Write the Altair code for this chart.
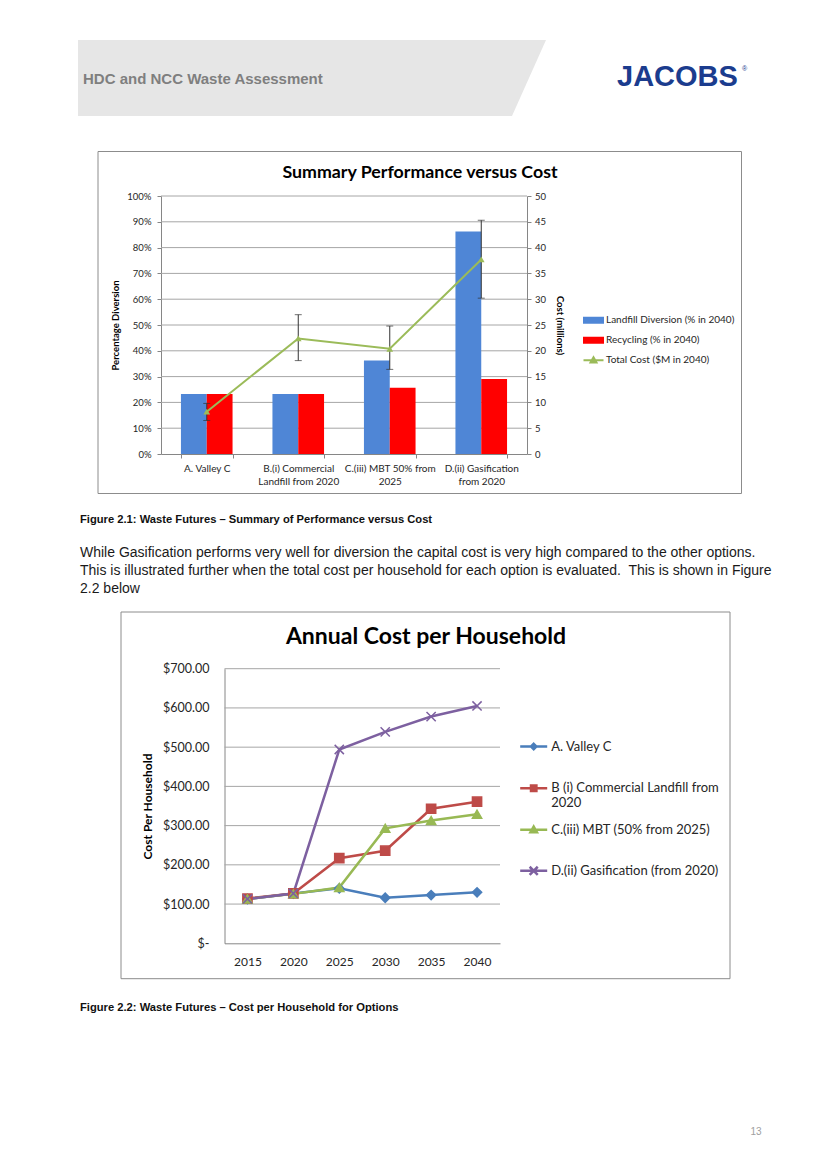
import json
import altair as alt
import pandas as pd

FONT = "Lato"
DOC_FONT = "Liberation Sans"

# ---------------- Figure 2.1 : Summary Performance versus Cost ----------------
options = ["A. Valley C", "B.(i) Commercial Landfill from 2020",
           "C.(iii) MBT 50% from 2025", "D.(ii) Gasification from 2020"]
option_label_lines = [["A. Valley C"], ["B.(i) Commercial", "Landfill from 2020"],
                      ["C.(iii) MBT 50% from", "2025"], ["D.(ii) Gasification", "from 2020"]]
landfill_diversion = [23.3, 23.3, 36.2, 86.2]   # % in 2040
recycling = [23.3, 23.3, 25.7, 29.1]            # % in 2040
total_cost = [8.2, 22.4, 20.4, 37.7]            # $M in 2040
cost_low = [6.5, 18.1, 16.4, 30.2]
cost_high = [9.8, 27.0, 24.8, 45.3]
series_fig1 = ["Landfill Diversion (% in 2040)", "Recycling (% in 2040)", "Total Cost ($M in 2040)"]
pct_ticks = [0, 10, 20, 30, 40, 50, 60, 70, 80, 90, 100]
cost_ticks = [0, 5, 10, 15, 20, 25, 30, 35, 40, 45, 50]

# ---------------- Figure 2.2 : Annual Cost per Household ----------------
years = ["2015", "2020", "2025", "2030", "2035", "2040"]
valley_c = [113, 127, 140, 116, 123, 130]
commercial_landfill = [114, 127, 217, 236, 343, 361]
mbt = [113, 126, 142, 293, 313, 329]
gasification = [113, 127, 494, 539, 578, 605]
series_fig2 = ["A. Valley C", "B (i) Commercial Landfill from 2020",
               "C.(iii) MBT (50% from 2025)", "D.(ii) Gasification (from 2020)"]
series2_label_lines = [["A. Valley C"], ["B (i) Commercial Landfill from", "2020"],
                       ["C.(iii) MBT (50% from 2025)"], ["D.(ii) Gasification (from 2020)"]]
dollar_ticks = [0, 100, 200, 300, 400, 500, 600, 700]

# ---------------- styles ----------------
BLUE1, RED1, GREEN1 = "#4F86D6", "#FF0000", "#9BBB59"
COLORS2 = ["#4A7EBB", "#BE4B48", "#98B954", "#7D60A0"]
AXIS_C = "#868686"
GRID_C = "#A6A6A6"
LABEL_C = "#262626"


def multiline_expr(keys, lines):
    parts = [f"datum.label == {json.dumps(k)} ? {json.dumps(v)}" for k, v in zip(keys, lines) if len(v) > 1]
    if not parts:
        return "datum.label"
    return " : ".join(parts) + " : datum.label"


one = alt.Data(values=[{"k": 1}])


def txt(text, x, y, size, font=DOC_FONT, weight="normal", color="#000000",
        align="left", baseline="alphabetic", **kw):
    return alt.Chart(one).mark_text(text=text, font=font, fontSize=size, fontWeight=weight,
                                    color=color, align=align, baseline=baseline, **kw).encode(
        x=alt.value(x), y=alt.value(y))


layers = []

# ---- page header ----
header_shape = pd.DataFrame({"py": [32, 108], "px": [70, 70], "px2": [538, 504]})
layers.append(alt.Chart(header_shape).mark_area(orient="horizontal", color="#E6E6E6").encode(
    y=alt.Y("py:Q", scale=None, axis=None), x=alt.X("px:Q", scale=None, axis=None), x2="px2:Q"))
layers.append(txt("HDC and NCC Waste Assessment", 75, 76.3, 15, weight="bold", color="#7F7F7F"))
layers.append(txt("JACOBS", 609, 78, 29, weight="bold", color="#1B3C8E"))
layers.append(txt("®", 734, 63, 7, color="#1B3C8E"))

# ---- Figure 2.1 ----
layers.append(alt.Chart(one).mark_rect(fillOpacity=0, stroke="#8C8C8C", strokeWidth=1).encode(
    x=alt.value(90), x2=alt.value(733.5), y=alt.value(143.5), y2=alt.value(485.5)))
layers.append(txt("Summary Performance versus Cost", 412, 170.3, 17.8, font=FONT, weight="bold", align="center"))

x1 = alt.Scale(domain=options, range=[153, 519], paddingInner=0.436, paddingOuter=0.218)
y1 = alt.Scale(domain=[0, 100], range=[446, 188])
y1r = alt.Scale(domain=[0, 50], range=[446, 188])

layers.append(alt.Chart(pd.DataFrame({"v": pct_ticks[1:]})).mark_rule(color=GRID_C, strokeWidth=1).encode(
    y=alt.Y("v:Q", scale=y1, axis=None), x=alt.value(153), x2=alt.value(519)))

bars_df = pd.DataFrame({
    "option": options * 2,
    "series": [series_fig1[0]] * 4 + [series_fig1[1]] * 4,
    "value": landfill_diversion + recycling,
})
layers.append(alt.Chart(bars_df).mark_bar().encode(
    x=alt.X("option:N", scale=x1, sort=options, axis=alt.Axis(
        orient="bottom", offset=-700, title=None, labelAngle=0,
        labelExpr=multiline_expr(options, option_label_lines), labelFontSize=10,
        labelLineHeight=13.3, labelPadding=5, tickBand="extent", tickSize=4)),
    xOffset=alt.XOffset("series:N", sort=series_fig1[:2]),
    y=alt.Y("value:Q", scale=y1, axis=alt.Axis(
        orient="left", offset=-153, values=pct_ticks, labelExpr="datum.value + '%'",
        labelFontSize=9.5, tickSize=4, labelPadding=6, title="Percentage Diversion",
        titleFontSize=9.5, titleFontWeight="bold", titlePadding=6)),
    color=alt.Color("series:N", scale=alt.Scale(domain=series_fig1[:2], range=[BLUE1, RED1]), legend=None),
))

cost_df = pd.DataFrame({"option": options, "cost": total_cost, "low": cost_low, "high": cost_high})
layers.append(alt.Chart(cost_df).mark_rule(color="#333333", strokeWidth=1).encode(
    x=alt.X("option:N", scale=x1, axis=None),
    y=alt.Y("low:Q", scale=y1r, axis=None), y2="high:Q"))
layers.append(alt.Chart(cost_df).transform_fold(["low", "high"], as_=["end", "val"]).mark_tick(
    color="#333333", size=7, thickness=1).encode(
    x=alt.X("option:N", scale=x1, axis=None),
    y=alt.Y("val:Q", scale=y1r, axis=None)))
layers.append(alt.Chart(cost_df).mark_line(color=GREEN1, strokeWidth=2).encode(
    x=alt.X("option:N", scale=x1, axis=None),
    y=alt.Y("cost:Q", scale=y1r, axis=alt.Axis(
        orient="right", offset=-285, values=cost_ticks, labelFontSize=9.5, tickSize=4,
        labelPadding=3.5, title="Cost (millions)", titleFontSize=9.5, titleFontWeight="bold",
        titlePadding=9))))
layers.append(alt.Chart(cost_df).mark_point(shape="triangle-up", filled=True, size=45,
                                            color=GREEN1, opacity=1).encode(
    x=alt.X("option:N", scale=x1, axis=None),
    y=alt.Y("cost:Q", scale=y1r, axis=None)))

RECT_SYM = "M-0.95,-0.25H0.95V0.25H-0.95Z"
LINE_TRI_SYM = "M-1,0H1M0,-0.3L0.3,0.22L-0.3,0.22Z"
leg1 = alt.Legend(orient="none", legendX=574.5, legendY=301.3, title=None, symbolSize=400,
                  symbolStrokeWidth=2, labelFontSize=10, labelOffset=1.5, rowPadding=2,
                  padding=0, labelLimit=300)
sc1 = alt.Scale(domain=series_fig1, range=[BLUE1, RED1, GREEN1])
layers.append(alt.Chart(pd.DataFrame({"series": series_fig1})).transform_filter("false").mark_point(
    filled=True, opacity=1).encode(
    color=alt.Color("series:N", scale=sc1, legend=leg1),
    stroke=alt.Stroke("series:N", scale=sc1, legend=leg1),
    shape=alt.Shape("series:N", scale=alt.Scale(domain=series_fig1, range=[RECT_SYM, RECT_SYM, LINE_TRI_SYM]),
                    legend=leg1)))

# ---- text between figures ----
layers.append(txt("Figure 2.1: Waste Futures – Summary of Performance versus Cost", 72, 514.5, 11.2,
                  weight="bold", color="#111111"))
layers.append(txt(["While Gasification performs very well for diversion the capital cost is very high compared to the other options.",
                   "This is illustrated further when the total cost per household for each option is evaluated.\u00a0 This is shown in Figure",
                   "2.2 below"], 72, 548.6, 14, color="#1A1A1A", lineHeight=18))

# ---- Figure 2.2 ----
layers.append(alt.Chart(one).mark_rect(fillOpacity=0, stroke="#8C8C8C", strokeWidth=1).encode(
    x=alt.value(113), x2=alt.value(722), y=alt.value(604), y2=alt.value(970.7)))
layers.append(txt("Annual Cost per Household", 418, 636.3, 23, font=FONT, weight="bold", align="center"))

x2s = alt.Scale(type="point", domain=years, range=[216.5, 492], padding=0.5)
y2s = alt.Scale(domain=[0, 700], range=[935.3, 660.7])

layers.append(alt.Chart(pd.DataFrame({"v": dollar_ticks[1:]})).mark_rule(color=GRID_C, strokeWidth=1).encode(
    y=alt.Y("v:Q", scale=y2s, axis=None), x=alt.value(216.5), x2=alt.value(492)))

rows = []
for name, vals in zip(series_fig2, [valley_c, commercial_landfill, mbt, gasification]):
    for yr, v in zip(years, vals):
        rows.append({"series": name, "year": yr, "cost": v})
df2 = pd.DataFrame(rows)
sc2 = alt.Scale(domain=series_fig2, range=COLORS2)

layers.append(alt.Chart(df2).mark_line(strokeWidth=2.5).encode(
    x=alt.X("year:O", scale=x2s, axis=alt.Axis(
        orient="bottom", offset=-210.7, title=None, labelAngle=0, labelFontSize=12,
        ticks=False, labelPadding=13.5)),
    y=alt.Y("cost:Q", scale=y2s, axis=alt.Axis(
        orient="left", offset=-216.5, values=dollar_ticks, ticks=False, labelOverlap=False,
        labelExpr="datum.value == 0 ? '$-\u00a0\u00a0\u00a0' : '$' + format(datum.value, '.2f')",
        labelFontSize=12.5, labelPadding=15.5, title="Cost Per Household", titleFontSize=12,
        titleFontWeight="bold", titlePadding=8)),
    color=alt.Color("series:N", scale=sc2, legend=None),
))
X_SYM = "M-1,-1L1,1M-1,1L1,-1"
layers.append(alt.Chart(df2).mark_point(filled=True, opacity=1, strokeWidth=1.5, size=85).encode(
    x=alt.X("year:O", scale=x2s, axis=None),
    y=alt.Y("cost:Q", scale=y2s, axis=None),
    color=alt.Color("series:N", scale=sc2, legend=None),
    stroke=alt.Stroke("series:N", scale=sc2, legend=None),
    shape=alt.Shape("series:N", scale=alt.Scale(domain=series_fig2,
                                                range=["diamond", "square", "triangle-up", X_SYM]),
                    legend=None),
))

# one legend entry per series so the rows keep Excel's even spacing
LEG2_SYMS = ["M-1,0H1M0,-0.2L0.2,0L0,0.2L-0.2,0Z",
             "M-1,0H1M-0.2,-0.2H0.2V0.2H-0.2Z",
             "M-1,0H1M0,-0.24L0.24,0.18L-0.24,0.18Z",
             "M-1,0H1M-0.3,-0.3L0.3,0.3M-0.3,0.3L0.3,-0.3"]
LEG2_Y = [723.5, 765.2, 806.8, 847.8]
for name, col, sym, ly, lines in zip(series_fig2, COLORS2, LEG2_SYMS, LEG2_Y, series2_label_lines):
    lg = alt.Legend(orient="none", legendX=510.7, legendY=ly, title=None, symbolSize=729,
                    symbolStrokeWidth=2.5, labelFontSize=13, labelOffset=2.5,
                    padding=0, labelLimit=400,
                    labelExpr=multiline_expr([name], [lines]))
    scn = alt.Scale(domain=[name], range=[col])
    layers.append(alt.Chart(pd.DataFrame({"series": [name]})).transform_filter("false").mark_point(
        filled=True, opacity=1).encode(
        color=alt.Color("series:N", scale=scn, legend=lg),
        stroke=alt.Stroke("series:N", scale=scn, legend=lg),
        shape=alt.Shape("series:N", scale=alt.Scale(domain=[name], range=[sym]), legend=lg)))

layers.append(txt("Figure 2.2: Waste Futures – Cost per Household for Options", 72, 1003, 11.2,
                  weight="bold", color="#111111"))
layers.append(txt("13", 748, 1127, 10, color="#A0A0A0", align="center"))

chart = alt.layer(*layers).resolve_scale(
    x="independent", y="independent", color="independent", shape="independent", stroke="independent"
).resolve_axis(x="independent", y="independent").resolve_legend(
    color="independent", shape="independent", stroke="independent"
).properties(
    width=804, height=1146, padding=0, autosize=alt.AutoSizeParams(type="none"), background="white"
).configure_view(stroke=None).configure_axis(
    labelFont=FONT, titleFont=FONT, labelColor=LABEL_C, titleColor="#000000",
    domainColor=AXIS_C, tickColor=AXIS_C, grid=False
).configure_legend(labelFont=FONT, labelColor=LABEL_C)

chart.save("out.html", embed_options={"renderer": "svg", "actions": False})
